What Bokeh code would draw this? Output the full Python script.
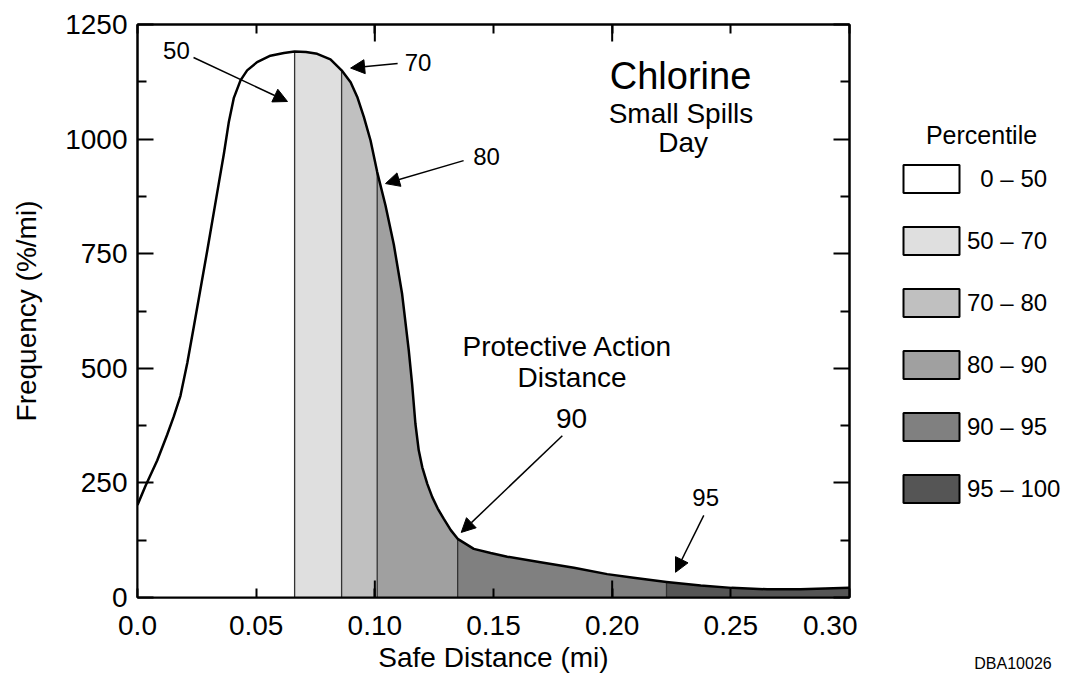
from bokeh.plotting import figure
from bokeh.layouts import row
from bokeh.models import (Range1d, FixedTicker, LinearAxis, CustomJSTickFormatter, Legend,
                          LegendItem, Arrow, NormalHead, Label)
from bokeh.core.properties import value
from bokeh.embed import file_html
from bokeh.resources import INLINE

FONT = "Liberation Sans"
NAN = float("nan")

# ---- data ----
dist = [0.0000, 0.0034, 0.0083, 0.0125, 0.0153, 0.0181, 0.0210, 0.0238, 0.0294, 0.0343,
        0.0364, 0.0385, 0.0406, 0.0434, 0.0462, 0.0504, 0.0560, 0.0617, 0.0662, 0.0710,
        0.0757, 0.0813, 0.0860, 0.0898, 0.0926, 0.0954, 0.0982, 0.1010, 0.1045, 0.1080,
        0.1115, 0.1143, 0.1157, 0.1171, 0.1185, 0.1200, 0.1221, 0.1242, 0.1265, 0.1290,
        0.1320, 0.1349, 0.1417, 0.1488, 0.1558, 0.1698, 0.1839, 0.1979, 0.2090, 0.2229,
        0.2373, 0.2503, 0.2653, 0.2794, 0.3000]
freq = [202, 244, 299, 355, 395, 440, 512, 593, 757, 905,
        968, 1038, 1090, 1128, 1150, 1168, 1182, 1188, 1191, 1190,
        1186, 1174, 1150, 1124, 1092, 1048, 997, 928, 855, 770,
        662, 539, 466, 379, 321, 284, 248, 219, 194, 172,
        147, 128, 106, 97, 89, 77, 65, 51, 43, 34,
        26, 21, 18, 18, 21]

pct_edges = [0.0, 0.0662, 0.0860, 0.1010, 0.1349, 0.2229, 0.3000]
pct_labels = ["\u20070 \u2013 50", "50 \u2013 70", "70 \u2013 80", "80 \u2013 90",
              "90 \u2013 95", "95 \u2013 100"]
pct_colors = ["#ffffff", "#dfdfdf", "#c0c0c0", "#a0a0a0", "#808080", "#555555"]

x_ticks = [0.0, 0.05, 0.10, 0.15, 0.20, 0.25, 0.30]
x_tick_labels = ["0.0", "0.05", "0.10", "0.15", "0.20", "0.25", "0.30"]
x_long_ticks = [0.10, 0.20]
y_ticks = [0, 250, 500, 750, 1000, 1250]
y_minor_ticks = [125, 375, 625, 875, 1125]

callout_labels = ["50", "70", "80", "95"]
callout_x = [0.0164, 0.1182, 0.1471, 0.2394]
callout_y = [1193, 1168, 961, 219]
pad_label = "90"
pad_x, pad_y = 0.1829, 391

arrow_x0 = [0.0236, 0.1096, 0.1374, 0.1790, 0.2386]
arrow_y0 = [1178, 1165, 953, 353, 179]
arrow_x1 = [0.0632, 0.0898, 0.1045, 0.1364, 0.2267]
arrow_y1 = [1082, 1155, 903, 142, 55]

# ---- main figure ----
p = figure(width=857, height=677, x_range=Range1d(0, 0.30), y_range=Range1d(0, 1250),
           output_backend="svg", toolbar_location=None, x_axis_type=None, y_axis_type=None,
           min_border_left=137, min_border_right=8, min_border_top=24, min_border_bottom=80)
p.outline_line_color = "black"
p.outline_line_width = 2
p.background_fill_color = "white"
p.border_fill_color = "white"

blank = CustomJSTickFormatter(code="return '';")


def style_axis(ax, labels=True):
    ax.axis_line_color = "black"
    ax.axis_line_width = 2
    ax.major_tick_line_color = "black"
    ax.major_tick_line_width = 2
    ax.minor_tick_line_color = "black"
    ax.minor_tick_line_width = 2
    ax.major_tick_out = 0
    ax.minor_tick_out = 0
    ax.major_label_text_font = FONT
    ax.major_label_text_color = "black"
    ax.major_label_text_font_size = "28px"
    if not labels:
        ax.formatter = blank
        ax.major_label_standoff = 0


yticker = FixedTicker(ticks=y_ticks, minor_ticks=y_minor_ticks)
left = LinearAxis(ticker=yticker, major_tick_in=16, minor_tick_in=9, major_label_standoff=10,
                  axis_label="Frequency (%/mi)", axis_label_standoff=20)
style_axis(left)
left.axis_label_text_font = FONT
left.axis_label_text_font_size = "28px"
left.axis_label_text_font_style = "normal"
left.axis_label_text_color = "black"
p.add_layout(left, "left")

right = LinearAxis(ticker=yticker, major_tick_in=16, minor_tick_in=9)
style_axis(right, labels=False)
p.add_layout(right, "right")

xticker = FixedTicker(ticks=x_ticks)
xfmt = CustomJSTickFormatter(args=dict(xt=x_ticks, xl=x_tick_labels), code="""
let best = 0, bd = Infinity;
for (let i = 0; i < xt.length; i++) {
  const d = Math.abs(xt[i] - tick);
  if (d < bd) { bd = d; best = i; }
}
return xl[best];
""")
bottom = LinearAxis(ticker=xticker, formatter=xfmt, major_tick_in=9, major_label_standoff=18,
                    axis_label="Safe Distance (mi)", axis_label_standoff=4)
style_axis(bottom)
bottom.axis_label_text_font = FONT
bottom.axis_label_text_font_size = "28px"
bottom.axis_label_text_font_style = "normal"
bottom.axis_label_text_color = "black"
p.add_layout(bottom, "below")

top = LinearAxis(ticker=xticker, major_tick_in=9)
style_axis(top, labels=False)
p.add_layout(top, "above")

# ---- shaded percentile bands ----
for i in range(len(pct_edges) - 1):
    lo, hi = pct_edges[i], pct_edges[i + 1]
    xs = [d for d in dist if lo - 1e-9 <= d <= hi + 1e-9]
    ys = [f for d, f in zip(dist, freq) if lo - 1e-9 <= d <= hi + 1e-9]
    p.varea(x=xs, y1=[0] * len(xs), y2=ys, fill_color=pct_colors[i], fill_alpha=1)

inner = pct_edges[1:-1]
inner_tops = [freq[dist.index(b)] for b in inner]
p.segment(x0=inner, y0=[0] * len(inner), x1=inner, y1=inner_tops,
          line_color="#333333", line_width=1.3)

# longer x ticks (bottom and top)
ylen = 17 * (1250 / 573)
p.segment(x0=x_long_ticks, y0=[0] * 2, x1=x_long_ticks, y1=[ylen] * 2,
          line_color="black", line_width=2)
p.segment(x0=x_long_ticks, y0=[1250] * 2, x1=x_long_ticks, y1=[1250 - ylen] * 2,
          line_color="black", line_width=2)

p.line(dist, freq, line_color="black", line_width=2.5, line_join="round")

# ---- callouts ----
p.text(x=callout_x, y=callout_y, text=callout_labels, text_font=value(FONT),
       text_font_size="24px", text_align="center", text_baseline="middle", text_color="black")
p.text(x=[pad_x], y=[pad_y], text=[pad_label], text_font=value(FONT),
       text_font_size="28px", text_align="center", text_baseline="middle", text_color="black")
for xs, ys, xe, ye in zip(arrow_x0, arrow_y0, arrow_x1, arrow_y1):
    p.add_layout(Arrow(end=NormalHead(size=14, fill_color="black", line_color="black", line_width=1),
                       x_start=xs, y_start=ys, x_end=xe, y_end=ye,
                       line_color="black", line_width=1.5))

p.text(x=[0.1812, 0.1831], y=[548, 480], text=["Protective Action", "Distance"],
       text_font=value(FONT), text_font_size="28px", text_align="center",
       text_baseline="middle", text_color="black")
p.text(x=[0.2288], y=[1138], text=["Chlorine"], text_font=value(FONT),
       text_font_size="38px", text_align="center", text_baseline="middle", text_color="black")
p.text(x=[0.2290, 0.2299], y=[1055, 992], text=["Small Spills", "Day"], text_font=value(FONT),
       text_font_size="28px", text_align="center", text_baseline="middle", text_color="black")

# ---- legend panel (second figure; its frame lines up with the main frame) ----
q = figure(width=212, height=677, x_range=Range1d(0, 212), y_range=Range1d(80, 653),
           output_backend="svg", toolbar_location=None, x_axis_type=None, y_axis_type=None,
           min_border=0)
q.outline_line_color = None
q.background_fill_color = "white"
q.border_fill_color = "white"

items = []
for lab, col in zip(pct_labels, pct_colors):
    r = q.quad(left=[NAN], right=[NAN], top=[NAN], bottom=[NAN], fill_color=col,
               line_color="black", line_width=2)
    items.append(LegendItem(label=lab, renderers=[r]))
legend = Legend(items=items, location=(39, 91), orientation="vertical",
                glyph_width=70, glyph_height=35, label_height=35, spacing=27,
                label_standoff=1, padding=0, margin=0, border_line_alpha=0,
                background_fill_alpha=0, label_text_font=FONT, label_text_font_size="24px",
                label_text_color="black")
q.add_layout(legend, "center")

q.add_layout(Label(x=124, y=542.5, text="Percentile", text_font=FONT, text_font_size="25px",
                   text_align="center", text_baseline="middle", text_color="black"))
q.add_layout(Label(x=155.5, y=14.5, text="DBA10026", text_font=FONT, text_font_size="16px",
                   text_align="center", text_baseline="middle", text_color="black"), "below")

layout = row(p, q, spacing=0)
open("out.html", "w").write(file_html(layout, INLINE))
